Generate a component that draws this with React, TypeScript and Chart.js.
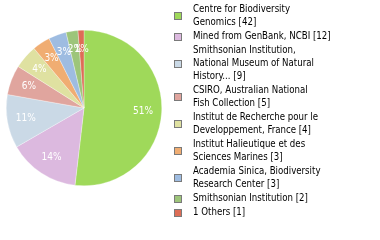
import React, { useEffect, useRef } from "react";
import { Chart, registerables } from "chart.js";

Chart.register(...registerables);

const categoryLines: string[][] = [
  ["Centre for Biodiversity", "Genomics"],
  ["Mined from GenBank, NCBI"],
  ["Smithsonian Institution,", "National Museum of Natural", "History..."],
  ["CSIRO, Australian National", "Fish Collection"],
  ["Institut de Recherche pour le", "Developpement, France"],
  ["Institut Halieutique et des", "Sciences Marines"],
  ["Academia Sinica, Biodiversity", "Research Center"],
  ["Smithsonian Institution"],
  ["1 Others"],
];
const values: number[] = [42, 12, 9, 5, 4, 3, 3, 2, 1];
const colors: string[] = [
  "#9fd95a",
  "#dcb9df",
  "#cad9e6",
  "#e0a59e",
  "#dfe1a1",
  "#f0ad72",
  "#9ebce1",
  "#9dc57a",
  "#dd6d56",
];

const FONT = '"DejaVu Sans Condensed", "DejaVu Sans", sans-serif';

const pctLabels = {
  id: "pctLabels",
  afterDatasetsDraw(chart: any) {
    const ctx = chart.ctx;
    const meta = chart.getDatasetMeta(0);
    const data = chart.data.datasets[0].data as number[];
    const total = data.reduce((a, b) => a + b, 0);
    ctx.save();
    ctx.font = `10px ${FONT}`;
    ctx.fillStyle = "#ffffff";
    ctx.textAlign = "center";
    ctx.textBaseline = "middle";
    meta.data.forEach((arc: any, i: number) => {
      const p = arc.getProps(["x", "y", "startAngle", "endAngle", "outerRadius"], true);
      const mid = (p.startAngle + p.endAngle) / 2;
      const r = p.outerRadius * 0.76;
      const x = p.x + Math.cos(mid) * r;
      const y = p.y + Math.sin(mid) * r;
      const pct = Math.floor((data[i] / total) * 100);
      ctx.fillText(pct + "%", x, y);
    });
    ctx.restore();
  },
};

const sideLegend = {
  id: "sideLegend",
  afterDraw(chart: any) {
    const ctx = chart.ctx;
    const data = chart.data.datasets[0].data as number[];
    const bg = chart.data.datasets[0].backgroundColor as string[];
    const pitch = 13;
    const gap = 1;
    let y = 3;
    ctx.save();
    ctx.font = `9.6px ${FONT}`;
    ctx.textBaseline = "middle";
    ctx.textAlign = "left";
    categoryLines.forEach((lines, i) => {
      const n = lines.length;
      const cy = y + (n * pitch) / 2;
      ctx.fillStyle = bg[i];
      ctx.fillRect(175, Math.round(cy) - 3, 7, 7);
      ctx.strokeStyle = "#7a7a7a";
      ctx.lineWidth = 1;
      ctx.strokeRect(174.5, Math.round(cy) - 3.5, 7, 7);
      ctx.fillStyle = "#000000";
      lines.forEach((ln, k) => {
        const txt = k === n - 1 ? `${ln} [${data[i]}]` : ln;
        ctx.fillText(txt, 193, y + pitch / 2 + k * pitch);
      });
      y += n * pitch + gap;
    });
    ctx.restore();
  },
};

export default function App() {
  const ref = useRef<HTMLCanvasElement | null>(null);
  useEffect(() => {
    if (!ref.current) return;
    const chart = new Chart(ref.current, {
      type: "pie",
      data: {
        labels: categoryLines.map((l) => l.join(" ")),
        datasets: [
          {
            data: values,
            backgroundColor: colors,
            borderColor: "rgba(255,255,255,0.6)",
            borderWidth: 0.5,
          },
        ],
      },
      options: {
        animation: false,
        responsive: false,
        maintainAspectRatio: false,
        layout: { padding: { left: 6, top: 30, right: 218, bottom: 54 } },
        plugins: {
          legend: { display: false },
          tooltip: { enabled: false },
        },
      },
      plugins: [pctLabels, sideLegend],
    });
    return () => chart.destroy();
  }, []);
  return (
    <div style={{ position: "absolute", left: 0, top: 0, width: 380, height: 240, background: "#fff" }}>
      <canvas ref={ref} width={380} height={240} style={{ width: 380, height: 240 }} />
    </div>
  );
}
